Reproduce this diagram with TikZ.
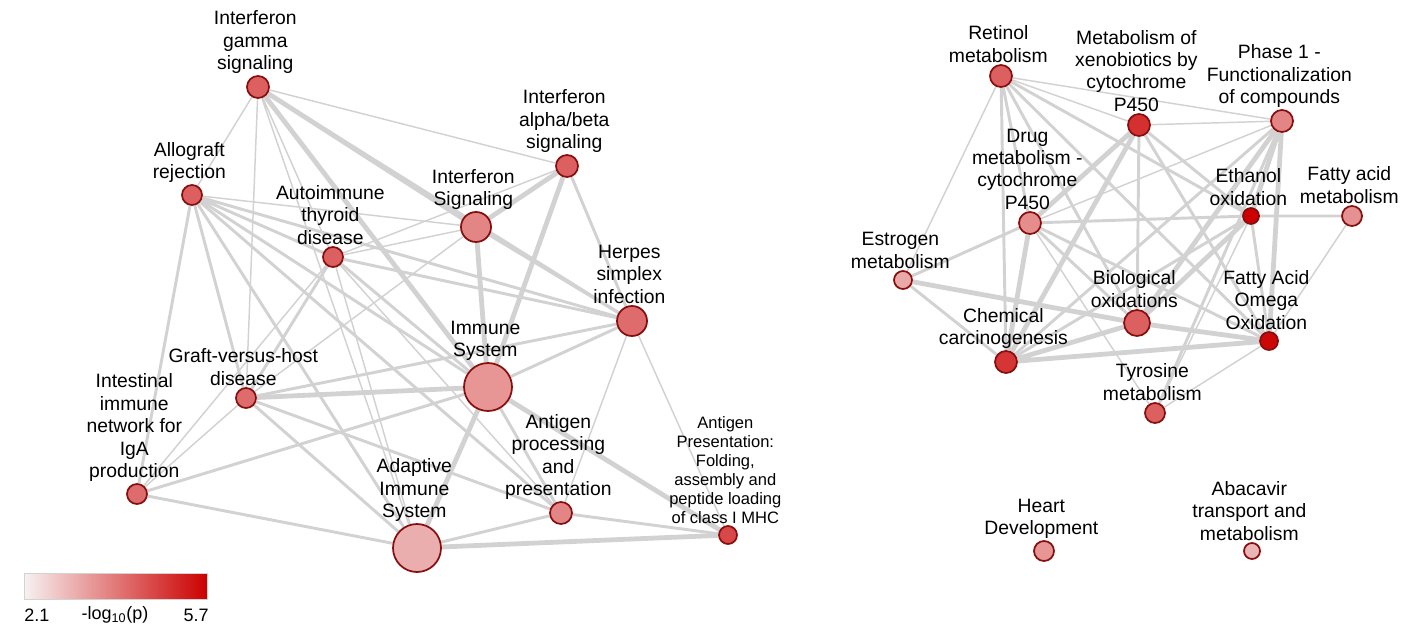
\documentclass[tikz,border=0pt]{standalone}
\usepackage{fontspec}
\setmainfont{Liberation Sans}
\usetikzlibrary{positioning}
\usetikzlibrary{backgrounds}
\definecolor{lo}{RGB}{247,241,241}
\definecolor{hi}{RGB}{204,0,0}
\definecolor{rim}{RGB}{135,14,14}
\definecolor{link}{RGB}{210,210,210}
\tikzset{pw/.style 2 args = {circle, draw = rim, line width = 1.3pt, inner sep = 0, minimum size = #1*1.5pt, fill = hi!#2!lo}}
\tikzset{lbl/.style = {align = center, inner sep = 1pt, xshift = -2pt, font = \fontsize{14.5}{16.8}\selectfont}}
\tikzset{lbls/.style = {lbl, font = \fontsize{12.4}{14.3}\selectfont}}
\tikzset{key/.style = {inner sep = 0, font = \fontsize{13.5}{16}\selectfont}}
\tikzset{l1/.style = {draw = link, line width = 1.1pt}}
\tikzset{l2/.style = {draw = link, line width = 2.2pt}}
\tikzset{l3/.style = {draw = link, line width = 3.6pt}}

\begin{document}
\begin{tikzpicture}[x = 0.75pt, y = -0.75pt]
    \useasboundingbox (0, 0) rectangle (1402, 631);

    % immune cluster
    \node [pw = {11}{60}] (ifng) at (258, 87) {};
    \node [pw = {10}{60}] (allo) at (192, 195) {};
    \node [pw = {10}{60}] (aitd) at (333, 257) {};
    \node [pw = {15}{45}] (ifns) at (476, 227) {};
    \node [pw = {11}{60}] (ifnab) at (567, 166) {};
    \node [pw = {15}{55}] (hsv) at (632, 321) {};
    \node [pw = {24}{38}] (imm) at (488, 387) {};
    \node [pw = {10}{55}] (gvhd) at (246, 398) {};
    \node [pw = {10}{55}] (iga) at (137, 494) {};
    \node [pw = {24}{28}] (adap) at (417, 548) {};
    \node [pw = {11}{45}] (agproc) at (561, 513) {};
    \node [pw = {9}{70}] (mhc) at (728, 535) {};

    \node [lbl, above = 0pt of ifng] (ifng-l) {Interferon\\gamma\\signaling};
    \node [lbl, above = 0pt of allo] (allo-l) {Allograft\\rejection};
    \node [lbl, above = 0pt of aitd] (aitd-l) {Autoimmune\\thyroid\\disease};
    \node [lbl, above = 0pt of ifns] (ifns-l) {Interferon\\Signaling};
    \node [lbl, above = 0pt of ifnab] (ifnab-l) {Interferon\\alpha/beta\\signaling};
    \node [lbl, above = 0pt of hsv] (hsv-l) {Herpes\\simplex\\infection};
    \node [lbl, above = 0pt of imm] (imm-l) {Immune\\System};
    \node [lbl, above = 0pt of gvhd] (gvhd-l) {Graft-versus-host\\disease};
    \node [lbl, above = 0pt of iga] (iga-l) {Intestinal\\immune\\network for\\IgA\\production};
    \node [lbl, above = 0pt of adap] (adap-l) {Adaptive\\Immune\\System};
    \node [lbl, above = 0pt of agproc] (agproc-l) {Antigen\\processing\\and\\presentation};
    \node [lbls, above = 0pt of mhc] (mhc-l) {Antigen\\Presentation:\\Folding,\\assembly and\\peptide loading\\of class I MHC};

    % metabolism cluster
    \node [pw = {11}{60}] (retinol) at (1001, 76) {};
    \node [pw = {11}{80}] (xeno) at (1139, 125) {};
    \node [pw = {11}{45}] (phase) at (1282, 121) {};
    \node [pw = {11}{42}] (drug) at (1030, 223) {};
    \node [pw = {8}{100}] (ethanol) at (1251, 216) {};
    \node [pw = {10}{40}] (fam) at (1352, 216) {};
    \node [pw = {9}{30}] (estro) at (903, 280) {};
    \node [pw = {13}{60}] (biox) at (1137, 323) {};
    \node [pw = {9}{97}] (omega) at (1269, 341) {};
    \node [pw = {11}{78}] (chem) at (1006, 362) {};
    \node [pw = {10}{60}] (tyr) at (1155, 413) {};
    \node [pw = {10}{38}] (heart) at (1044, 551) {};
    \node [pw = {8}{25}] (abc) at (1252, 551) {};

    \node [lbl, above = 0pt of retinol] (retinol-l) {Retinol\\metabolism};
    \node [lbl, above = 0pt of xeno] (xeno-l) {Metabolism of\\xenobiotics by\\cytochrome\\P450};
    \node [lbl, above = 0pt of phase] (phase-l) {Phase 1 -\\Functionalization\\of compounds};
    \node [lbl, above = 0pt of drug] (drug-l) {Drug\\metabolism -\\cytochrome\\P450};
    \node [lbl, above = 0pt of ethanol] (ethanol-l) {Ethanol\\oxidation};
    \node [lbl, above = 0pt of fam] (fam-l) {Fatty acid\\metabolism};
    \node [lbl, above = 0pt of estro] (estro-l) {Estrogen\\metabolism};
    \node [lbl, above = 0pt of biox] (biox-l) {Biological\\oxidations};
    \node [lbl, above = 0pt of omega] (omega-l) {Fatty Acid\\Omega\\Oxidation};
    \node [lbl, above = 0pt of chem] (chem-l) {Chemical\\carcinogenesis};
    \node [lbl, above = 0pt of tyr] (tyr-l) {Tyrosine\\metabolism};
    \node [lbl, above = 0pt of heart] (heart-l) {Heart\\Development};
    \node [lbl, above = 0pt of abc] (abc-l) {Abacavir\\transport and\\metabolism};

    \begin{scope}[on background layer]
        \draw [l1] (ifng) -- (allo) (ifng) -- (ifnab) (ifng) -- (gvhd) (ifng) -- (adap) (ifng) -- (aitd);
        \draw [l1] (allo) -- (ifns) (aitd) -- (ifns) (aitd) -- (iga) (aitd) -- (adap) (aitd) -- (agproc);
        \draw [l1] (ifnab) -- (aitd) (ifns) -- (gvhd) (hsv) -- (agproc) (hsv) -- (mhc) (gvhd) -- (iga);
        \draw [l2] (ifng) -- (hsv) (allo) -- (aitd) (allo) -- (hsv) (allo) -- (imm) (allo) -- (gvhd);
        \draw [l2] (allo) -- (iga) (allo) -- (adap) (allo) -- (agproc) (aitd) -- (hsv) (aitd) -- (imm);
        \draw [l2] (aitd) -- (gvhd) (ifns) -- (hsv) (ifnab) -- (hsv) (hsv) -- (imm) (hsv) -- (gvhd);
        \draw [l2] (imm) -- (agproc) (imm) -- (iga) (gvhd) -- (adap) (gvhd) -- (agproc) (iga) -- (adap);
        \draw [l2] (adap) -- (agproc) (agproc) -- (mhc);
        \draw [l3] (ifng) -- (ifns) (ifng) -- (imm) (ifns) -- (ifnab) (ifns) -- (imm) (ifnab) -- (imm);
        \draw [l3] (imm) -- (gvhd) (imm) -- (adap) (imm) -- (mhc) (adap) -- (mhc);

        \draw [l1] (retinol) -- (estro) (retinol) -- (phase) (retinol) -- (xeno) (xeno) -- (phase) (phase) -- (drug);
        \draw [l1] (omega) -- (tyr) (omega) -- (fam) (ethanol) -- (tyr) (drug) -- (tyr);
        \draw [l2] (retinol) -- (chem) (retinol) -- (drug) (retinol) -- (biox) (retinol) -- (ethanol) (retinol) -- (omega);
        \draw [l2] (estro) -- (drug) (estro) -- (chem) (xeno) -- (biox) (xeno) -- (ethanol) (xeno) -- (omega);
        \draw [l2] (phase) -- (chem) (drug) -- (ethanol) (ethanol) -- (fam) (drug) -- (biox) (drug) -- (omega);
        \draw [l2] (ethanol) -- (omega) (chem) -- (ethanol) (phase) -- (tyr);
        \draw [l3] (xeno) -- (drug) (xeno) -- (chem) (phase) -- (ethanol) (phase) -- (omega) (phase) -- (biox);
        \draw [l3] (estro) -- (biox) (chem) -- (biox) (chem) -- (omega) (biox) -- (ethanol) (biox) -- (omega) (drug) -- (chem);
    \end{scope}

    % colour key
    \node [draw = gray!35, left color = lo, right color = hi, minimum width = 137pt, minimum height = 19.5pt, inner sep = 0] (bar) at (115.5, 586) {};
    \node [key, anchor = west] (bar-lo) at (24, 615) {2.1};
    \node [key] (bar-mid) at (115, 615) {-log\textsubscript{10}(p)};
    \node [key, anchor = east] (bar-hi) at (209, 615) {5.7};
\end{tikzpicture}
\end{document}
